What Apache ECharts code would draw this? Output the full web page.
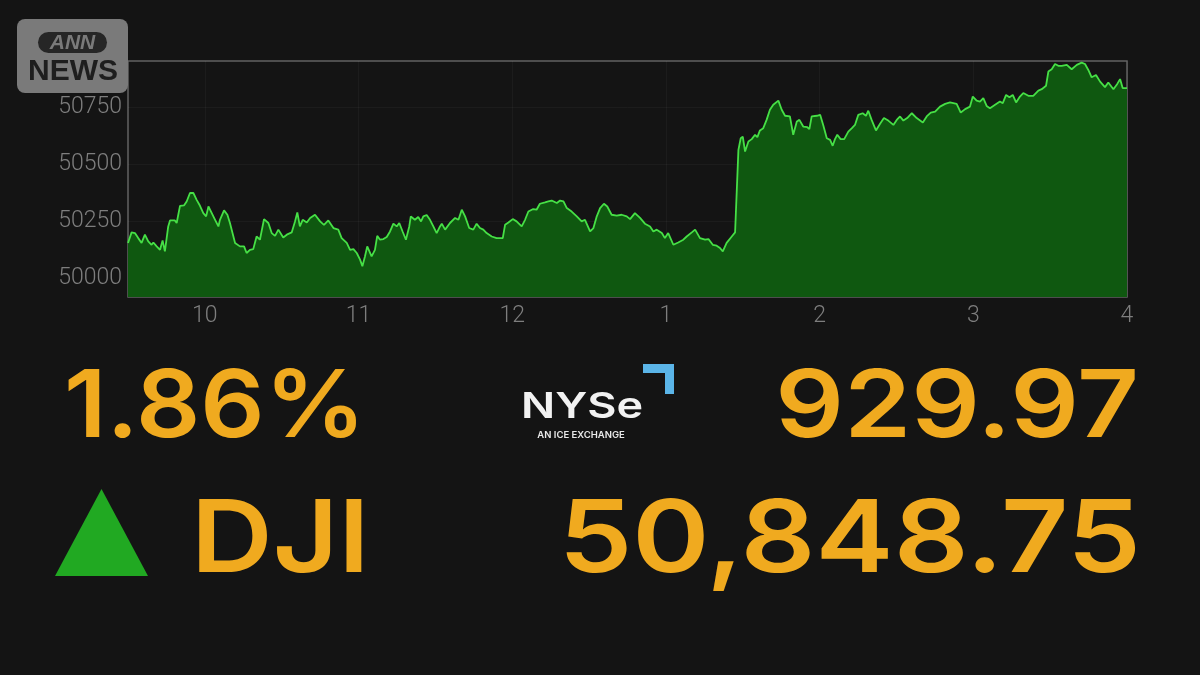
<!DOCTYPE html>
<html>
<head>
<meta charset="utf-8">
<style>
  html, body { margin: 0; padding: 0; background: #141414; }
  #chart { width: 1200px; height: 675px; }
</style>
<script src="https://cdn.jsdelivr.net/npm/echarts@6.0.0/dist/echarts.min.js"></script>
</head>
<body>
<div id="chart"></div>
<script>
// Minutes since 9:30 (ET)
const times = [
  0, 1.4, 2.7, 4.0, 5.3, 6.6, 7.9, 9.2, 9.9, 11.2, 12.5, 13.5, 14.4, 15.7, 16.4, 18.3, 19.0, 20.3, 21.9, 22.9,
  24.2, 25.5, 26.8, 28.1, 29.4, 30.5, 31.4, 32.7, 34.0, 35.3, 35.9, 37.5, 38.8, 39.8, 41.8, 43.7, 45.3, 46.3, 47.6, 48.9,
  50.2, 51.5, 53.1, 54.8, 56.1, 57.4, 58.7, 60.6, 62.0, 63.9, 65.2, 66.1, 67.1, 68.2, 69.8, 71.1, 73.0, 75.0, 76.5, 78.2,
  80.2, 82.1, 83.4, 85.4, 86.7, 88.0, 89.3, 90.6, 91.5, 92.5, 93.4, 95.1, 96.4, 97.3, 98.4, 99.7, 101.0, 102.3, 103.6, 104.9,
  105.9, 107.2, 108.5, 109.8, 110.4, 112.0, 113.3, 114.4, 115.3, 116.6, 117.9, 119.2, 120.5, 121.8, 122.5, 123.8, 125.7, 127.7, 129.0, 130.3,
  131.6, 133.2, 134.8, 136.1, 137.4, 138.7, 140.0, 142.0, 143.9, 146.3, 147.2, 148.5, 150.2, 151.7, 153.7, 155.0, 156.3, 158.2, 159.5, 160.8,
  162.8, 164.1, 165.4, 167.4, 168.7, 170.0, 171.3, 173.2, 175.2, 177.1, 178.4, 180.4, 181.7, 183.0, 184.3, 185.8, 187.1, 188.8, 190.8, 192.7,
  194.7, 196.0, 197.9, 199.9, 201.8, 203.8, 205.1, 206.4, 208.4, 209.6, 210.9, 212.9, 214.8, 216.8, 218.1, 220.1, 221.4, 223.3, 225.3, 226.6,
  228.3, 229.8, 231.1, 232.2, 233.7, 235.7, 237.0, 238.3, 239.2, 240.0, 240.9, 242.2, 243.5, 244.8, 245.7, 246.7, 248.0, 249.3, 250.6, 251.9,
  253.9, 255.2, 256.5, 258.4, 259.7, 261.1, 262.1, 263.6, 265.2, 266.0, 266.9, 268.9, 270.2, 271.4, 272.8, 274.1, 275.1, 276.0, 276.9, 278.2,
  279.6, 281.2, 282.6, 283.8, 285.1, 286.8, 288.1, 289.0, 290.3, 292.0, 293.6, 295.1, 296.8, 298.8, 300.1, 301.4, 302.7, 304.2, 306.0, 307.9,
  310.3, 311.8, 313.4, 315.1, 317.0, 319.0, 320.9, 323.5, 325.1, 326.8, 328.7, 329.8, 331.3, 332.6, 333.9, 335.2, 336.5, 338.5, 340.4, 341.5,
  342.8, 344.1, 345.4, 346.7, 348.2, 349.5, 351.5, 353.4, 355.4, 356.7, 358.4, 359.3, 360.6, 361.9, 363.2, 364.5, 366.5, 368.4, 370.4, 372.3,
  373.6, 374.9, 376.2, 377.9, 379.5, 381.4, 382.7, 384.7, 386.2, 387.3, 388.3, 390.0
];
const values = [
  50156, 50202, 50199, 50177, 50156, 50192, 50163, 50148, 50158, 50141, 50126, 50167, 50119, 50228, 50254, 50254, 50243, 50318, 50320, 50337,
  50374, 50374, 50344, 50318, 50286, 50272, 50315, 50286, 50257, 50228, 50257, 50298, 50279, 50243, 50156, 50141, 50141, 50112, 50126, 50129,
  50184, 50170, 50260, 50243, 50199, 50187, 50214, 50180, 50192, 50202, 50250, 50289, 50228, 50257, 50245, 50265, 50279, 50250, 50235, 50254,
  50221, 50214, 50177, 50156, 50126, 50129, 50112, 50083, 50054, 50097, 50141, 50097, 50126, 50187, 50170, 50173, 50182, 50206, 50240, 50228,
  50243, 50206, 50170, 50228, 50272, 50257, 50269, 50250, 50272, 50278, 50257, 50228, 50199, 50228, 50240, 50214, 50243, 50265, 50257, 50301,
  50272, 50221, 50214, 50240, 50221, 50214, 50199, 50184, 50177, 50177, 50235, 50245, 50260, 50250, 50228, 50257, 50293, 50304, 50301, 50327,
  50333, 50337, 50341, 50330, 50341, 50337, 50308, 50293, 50272, 50250, 50257, 50206, 50221, 50272, 50308, 50327, 50315, 50279, 50275, 50279,
  50272, 50260, 50286, 50265, 50240, 50228, 50206, 50214, 50199, 50177, 50199, 50148, 50158, 50170, 50184, 50202, 50214, 50177, 50170, 50173,
  50148, 50144, 50134, 50119, 50156, 50184, 50202, 50562, 50613, 50620, 50555, 50599, 50609, 50628, 50618, 50647, 50657, 50693, 50737, 50759,
  50777, 50737, 50711, 50708, 50628, 50686, 50693, 50664, 50661, 50653, 50708, 50711, 50715, 50671, 50613, 50606, 50580, 50609, 50628, 50609,
  50609, 50642, 50657, 50671, 50715, 50722, 50711, 50733, 50693, 50647, 50676, 50701, 50690, 50671, 50693, 50708, 50690, 50701, 50722, 50701,
  50682, 50708, 50725, 50729, 50751, 50763, 50769, 50763, 50725, 50740, 50751, 50795, 50777, 50773, 50788, 50754, 50744, 50759, 50773, 50766,
  50802, 50792, 50802, 50769, 50795, 50810, 50798, 50798, 50821, 50827, 50842, 50904, 50914, 50937, 50929, 50929, 50933, 50914, 50933, 50943,
  50937, 50911, 50879, 50889, 50860, 50836, 50856, 50827, 50850, 50871, 50832, 50832
];
const xTickMinutes = [30, 90, 150, 210, 270, 330, 390];
const xTickLabels = ['10', '11', '12', '1', '2', '3', '4'];
const yTicks = [50000, 50250, 50500, 50750];

const headline = {
  changePct: '1.86%',
  changePts: '929.97',
  index: 'DJI',
  level: '50,848.75'
};

const seriesData = times.map((t, i) => [t, values[i]]);

const ORANGE = '#f0aa1f';
const FONT_TOP = '600 94px Inter, sans-serif';
const FONT_BOT = '600 101px Inter, sans-serif';

function bigText(text, x, y, align, font, sx) {
  return { type: 'text', z: 50, x: x, y: y, scaleX: sx,
    style: { text: text, x: 0, y: 0, align: align, verticalAlign: 'middle', font: font, fill: ORANGE } };
}

const chart = echarts.init(document.getElementById('chart'), null, { renderer: 'canvas' });
chart.setOption({
  backgroundColor: '#141414',
  animation: false,
  grid: {
    left: 128, right: 73, top: 61, bottom: 378,
    show: true, borderColor: '#626262', borderWidth: 1.5, backgroundColor: 'transparent'
  },
  xAxis: {
    type: 'value', min: 0, max: 390,
    axisLine: { show: false },
    axisTick: { show: false, customValues: xTickMinutes },
    splitLine: { show: true, lineStyle: { color: 'rgba(255,255,255,0.035)', width: 1 } },
    axisLabel: {
      customValues: xTickMinutes,
      showMinLabel: true, showMaxLabel: true,
      color: '#7e7e7e', fontFamily: 'Roboto', fontWeight: 300, fontSize: 23, margin: 8,
      formatter: v => { const i = xTickMinutes.indexOf(v); return i >= 0 ? xTickLabels[i] : ''; }
    }
  },
  yAxis: {
    type: 'value', min: 49920, max: 50950,
    axisLine: { show: false },
    axisTick: { show: false, customValues: yTicks },
    splitLine: { show: true, lineStyle: { color: 'rgba(255,255,255,0.035)', width: 1 } },
    axisLabel: {
      customValues: yTicks,
      color: '#7e7e7e', fontFamily: 'Roboto', fontWeight: 300, fontSize: 23, margin: 6,
      formatter: v => String(v)
    }
  },
  series: [{
    type: 'line',
    data: seriesData,
    showSymbol: false,
    smooth: false,
    lineStyle: { color: '#46e046', width: 1.8 },
    areaStyle: { color: '#0f5810', opacity: 1, origin: 'start' },
    z: 2
  }],
  graphic: [
    // ANN NEWS logo
    { type: 'rect', shape: { x: 17, y: 19, width: 111, height: 74, r: 8 }, style: { fill: '#7a7a7a' }, z: 100 },
    { type: 'rect', shape: { x: 38, y: 32, width: 69, height: 21, r: 10.5 }, style: { fill: '#262626' }, z: 101 },
    { type: 'text', z: 102, style: { text: 'ANN', x: 72.5, y: 43, align: 'center', verticalAlign: 'middle',
        font: 'italic 800 21px "Liberation Sans", Arial, sans-serif', fill: '#7a7a7a' } },
    { type: 'text', z: 102, style: { text: 'NEWS', x: 73, y: 72, align: 'center', verticalAlign: 'middle',
        font: 'bold 30px "Liberation Sans", Arial, sans-serif', fill: '#1e1e1e' } },

    // Headline numbers
    bigText(headline.changePct, 64, 409, 'left', FONT_TOP, 1.07),
    bigText(headline.changePts, 1139, 409, 'right', FONT_TOP, 1.145),
    bigText(headline.index, 191, 542, 'left', FONT_BOT, 1.12),
    bigText(headline.level, 1141, 542, 'right', FONT_BOT, 1.16),

    // Up triangle
    { type: 'polygon', z: 50, shape: { points: [[55, 576], [148, 576], [101.5, 489]] }, style: { fill: '#21a922' } },

    // NYSE logo
    { type: 'text', z: 50, x: 521, y: 407.5, scaleX: 1.25,
      style: { text: 'NYSe', x: 0, y: 0, align: 'left', verticalAlign: 'middle',
        font: '600 36px Inter, "Open Sans", sans-serif', fill: '#f2f2f2' } },
    { type: 'rect', z: 50, shape: { x: 643, y: 364, width: 31, height: 9 }, style: { fill: '#5bb5e8' } },
    { type: 'rect', z: 50, shape: { x: 665, y: 364, width: 9, height: 30 }, style: { fill: '#5bb5e8' } },
    { type: 'text', z: 50, style: { text: 'AN ICE EXCHANGE', x: 581, y: 435.5, align: 'center', verticalAlign: 'middle',
        font: '600 9.5px Inter, "Open Sans", sans-serif', fill: '#e8e8e8' } }
  ]
});
</script>
</body>
</html>
